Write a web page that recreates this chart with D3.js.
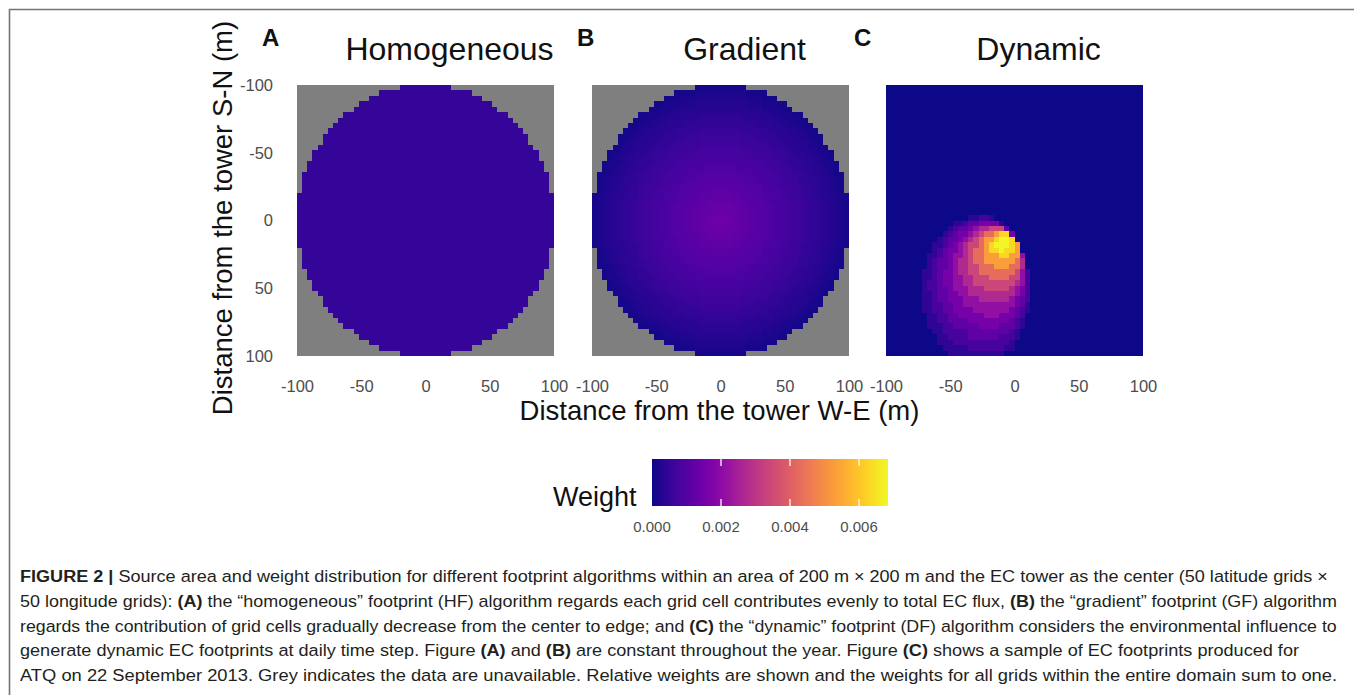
<!DOCTYPE html>
<html><head><meta charset="utf-8">
<script src="https://cdn.jsdelivr.net/npm/d3@7"></script>
<style>
body{margin:0;background:#fff}
svg{display:block}
text{font-family:"Liberation Sans",Arial,sans-serif}
</style></head>
<body>
<svg id="fig" width="1354" height="695"></svg>
<script>
// ---------------- data ----------------
const panelNames = ["Homogeneous", "Gradient", "Dynamic"];
const panelLetters = ["A", "B", "C"];
const axisTicks = [-100, -50, 0, 50, 100];
const colorTicks = [0, 0.002, 0.004, 0.006];
const weightMax = 0.00684;
const nGrid = 50;

// number of cells on each side of the centre line that lie inside the 100 m circle, per row (top to bottom)
const maskHalfWidth = [5,9,11,13,14,16,17,18,19,20,20,21,22,22,23,23,24,24,24,24,25,25,25,25,25,
                       25,25,25,25,25,24,24,24,24,23,23,22,22,21,20,20,19,18,17,16,14,13,11,9,5];

// homogeneous footprint: one weight for every valid cell
const homogeneousWeight = 0.000506;

// gradient footprint: weight for each 4 m ring from the centre outwards
const gradientRings = [0.00140,0.00135,0.00129,0.00124,0.00118,0.00113,0.00108,0.00102,0.00097,0.00091,
                       0.00086,0.00081,0.00075,0.00070,0.00064,0.00059,0.00054,0.00048,0.00043,0.00037,
                       0.00032,0.00027,0.00021,0.00016,0.00010];

// dynamic footprint (22 Sep 2013): band levels per cell, rows 22..49, columns 5..30
const dynamicRowStart = 22, dynamicColStart = 5;
const dynamicLevels = [
"00000000000000000000000000",
"00000000000000000000000000",
"00000000000112210000000000",
"00000000112334444100000000",
"00000001233456677730000000",
"00000012344567889aa4000000",
"0000012334567899abba000000",
"000011234567789abbba900000",
"000012344567889aabaa900000",
"00011234556788999aa9950000",
"00012334566788999999860000",
"00012334566778889998860000",
"00112344566778888888752000",
"00112344556677788887752000",
"00122344556677777777652000",
"00122334555666777776542000",
"00112334455666666666542000",
"00112334445556666665432000",
"00112233445555555555431000",
"00112233444455555554321000",
"00011223344444555444320000",
"00011223333444444443210000",
"00011122333334444333210000",
"00001122222333333332100000",
"00000112222333333222100000",
"00000111222222222221000000",
"00000011111222222211000000",
"00000001111111111100000000"];
// weight of each band level
const levelKeys = ["0","1","2","3","4","5","6","7","8","9","a","b"];
const levelWeights = [0.00002,0.0004,0.0008,0.0012,0.0016,0.0021,0.0027,0.0034,0.0043,0.0053,0.0063,0.0068];

const captionLines = [
  [["FIGURE 2 |",1],[" Source area and weight distribution for different footprint algorithms within an area of 200 m × 200 m and the EC tower as the center (50 latitude grids ×",0]],
  [["50 longitude grids): ",0],["(A)",1],[" the “homogeneous” footprint (HF) algorithm regards each grid cell contributes evenly to total EC flux, ",0],["(B)",1],[" the “gradient” footprint (GF) algorithm",0]],
  [["regards the contribution of grid cells gradually decrease from the center to edge; and ",0],["(C)",1],[" the “dynamic” footprint (DF) algorithm considers the environmental influence to",0]],
  [["generate dynamic EC footprints at daily time step. Figure ",0],["(A)",1],[" and ",0],["(B)",1],[" are constant throughout the year. Figure ",0],["(C)",1],[" shows a sample of EC footprints produced for",0]],
  [["ATQ on 22 September 2013. Grey indicates the data are unavailable. Relative weights are shown and the weights for all grids within the entire domain sum to one.",0]]
];

// ---------------- layout ----------------
const panelLeft = [297, 592, 886];
const panelW = 257, panelTop = 85, panelH = 271;
const naColor = "#7f7f7f";
const tickColor = "#4d4d4d";

const svg = d3.select("#fig");
svg.append("rect").attr("width",1354).attr("height",695).attr("fill","#fff");
svg.append("path").attr("d","M9.5,695 V9.5 H1354").attr("fill","none").attr("stroke","#747474").attr("stroke-width",1.6);

const color = d3.scaleSequential(d3.interpolatePlasma).domain([0, weightMax]);
const yBand = d3.scaleBand().domain(d3.range(nGrid)).range([panelTop, panelTop+panelH]);
const yLin = d3.scaleLinear().domain([-100,100]).range([panelTop, panelTop+panelH]);
const fmt = d => String(d);

function cellValue(p, i, j){
  const inside = Math.abs(j - 24.5) < maskHalfWidth[i];
  if (p === 0) return inside ? homogeneousWeight : null;
  if (p === 1) {
    if (!inside) return null;
    const xm = -98 + 4*j, ym = -98 + 4*i;
    const ring = Math.min(gradientRings.length-1, Math.floor(Math.sqrt(xm*xm+ym*ym)/4));
    return gradientRings[ring];
  }
  const r = i - dynamicRowStart, c = j - dynamicColStart;
  let key = "0";
  if (r >= 0 && r < dynamicLevels.length && c >= 0 && c < dynamicLevels[r].length) key = dynamicLevels[r][c];
  return levelWeights[levelKeys.indexOf(key)];
}

panelNames.forEach((name, p) => {
  const x0 = panelLeft[p];
  const xBand = d3.scaleBand().domain(d3.range(nGrid)).range([x0, x0+panelW]);
  const xLin = d3.scaleLinear().domain([-100,100]).range([x0, x0+panelW]);
  const cells = [];
  for (let i=0;i<nGrid;i++) for (let j=0;j<nGrid;j++) cells.push({i, j, v: cellValue(p,i,j)});
  svg.append("g").selectAll("rect").data(cells).join("rect")
    .attr("x", d => xBand(d.j)).attr("y", d => yBand(d.i))
    .attr("width", xBand.bandwidth()+0.4).attr("height", yBand.bandwidth()+0.4)
    .attr("fill", d => d.v === null ? naColor : color(d.v))
    .attr("shape-rendering","crispEdges");

  const ax = svg.append("g").attr("transform", `translate(0,${panelTop+panelH})`)
    .call(d3.axisBottom(xLin).tickValues(axisTicks).tickSize(0).tickPadding(24).tickFormat(fmt));
  ax.select(".domain").remove();
  ax.selectAll("text").attr("font-size",16.5).attr("fill",tickColor).attr("font-family","Liberation Sans");

  svg.append("text").attr("x", x0 + panelW/2 + 24).attr("y", 60).attr("text-anchor","middle")
    .attr("font-size",32).attr("fill","#111").text(name);
  svg.append("text").attr("x", [262,577,854][p]).attr("y", 46)
    .attr("font-size",24).attr("font-weight","bold").attr("fill","#111").text(panelLetters[p]);
});

const ay = svg.append("g").attr("transform", `translate(${panelLeft[0]},0)`)
  .call(d3.axisLeft(yLin).tickValues(axisTicks).tickSize(0).tickPadding(24).tickFormat(fmt));
ay.select(".domain").remove();
ay.selectAll("text").attr("font-size",16.5).attr("fill",tickColor).attr("font-family","Liberation Sans");

svg.append("text").attr("x",719.5).attr("y",420).attr("text-anchor","middle").attr("font-size",27.5)
  .attr("fill","#111").text("Distance from the tower W-E (m)");
svg.append("text").attr("transform","translate(232,218) rotate(-90)").attr("text-anchor","middle").attr("font-size",27.5)
  .attr("fill","#111").text("Distance from the tower S-N (m)");

// colour bar
const cbX = d3.scaleLinear().domain([0, weightMax]).range([652, 888]);
const cbTop = 459, cbH = 47;
const grad = svg.append("defs").append("linearGradient").attr("id","cb").attr("x1","0%").attr("x2","100%");
d3.range(0,1.0001,0.05).forEach(t => grad.append("stop").attr("offset", (t*100)+"%").attr("stop-color", color(t*weightMax)));
svg.append("rect").attr("x",cbX(0)).attr("y",cbTop).attr("width",cbX(weightMax)-cbX(0)).attr("height",cbH).attr("fill","url(#cb)");
colorTicks.slice(1).forEach(v => {
  [[cbTop, cbTop+7],[cbTop+cbH-7, cbTop+cbH]].forEach(([a,b]) =>
    svg.append("line").attr("x1",cbX(v)).attr("x2",cbX(v)).attr("y1",a).attr("y2",b)
      .attr("stroke","#fff").attr("stroke-opacity",0.85).attr("stroke-width",1.5));
});
svg.selectAll(".cbt").data(colorTicks).join("text").attr("class","cbt")
  .attr("x", d => cbX(d)).attr("y", 532).attr("text-anchor","middle").attr("font-size",15)
  .attr("fill",tickColor).text(d => d3.format(".3f")(d));
svg.append("text").attr("x",553).attr("y",506).attr("font-size",27).attr("fill","#111").text("Weight");

// caption: each line fitted between the left margin and its right end
const capX = 20;
const capBase = [582, 607, 632, 656, 681];
const capEnd = [1329, 1338, 1338, 1300, 1338];
captionLines.forEach((line, k) => {
  const t = svg.append("text").attr("font-size",17).attr("fill","#231f20");
  line.forEach(([s,b]) => t.append("tspan").attr("font-weight", b ? "bold" : "normal").text(s));
  const w = t.node().getComputedTextLength();
  t.attr("transform", `translate(${capX},${capBase[k]}) scale(${(capEnd[k]-capX)/w},1)`);
});
</script>
</body></html>
